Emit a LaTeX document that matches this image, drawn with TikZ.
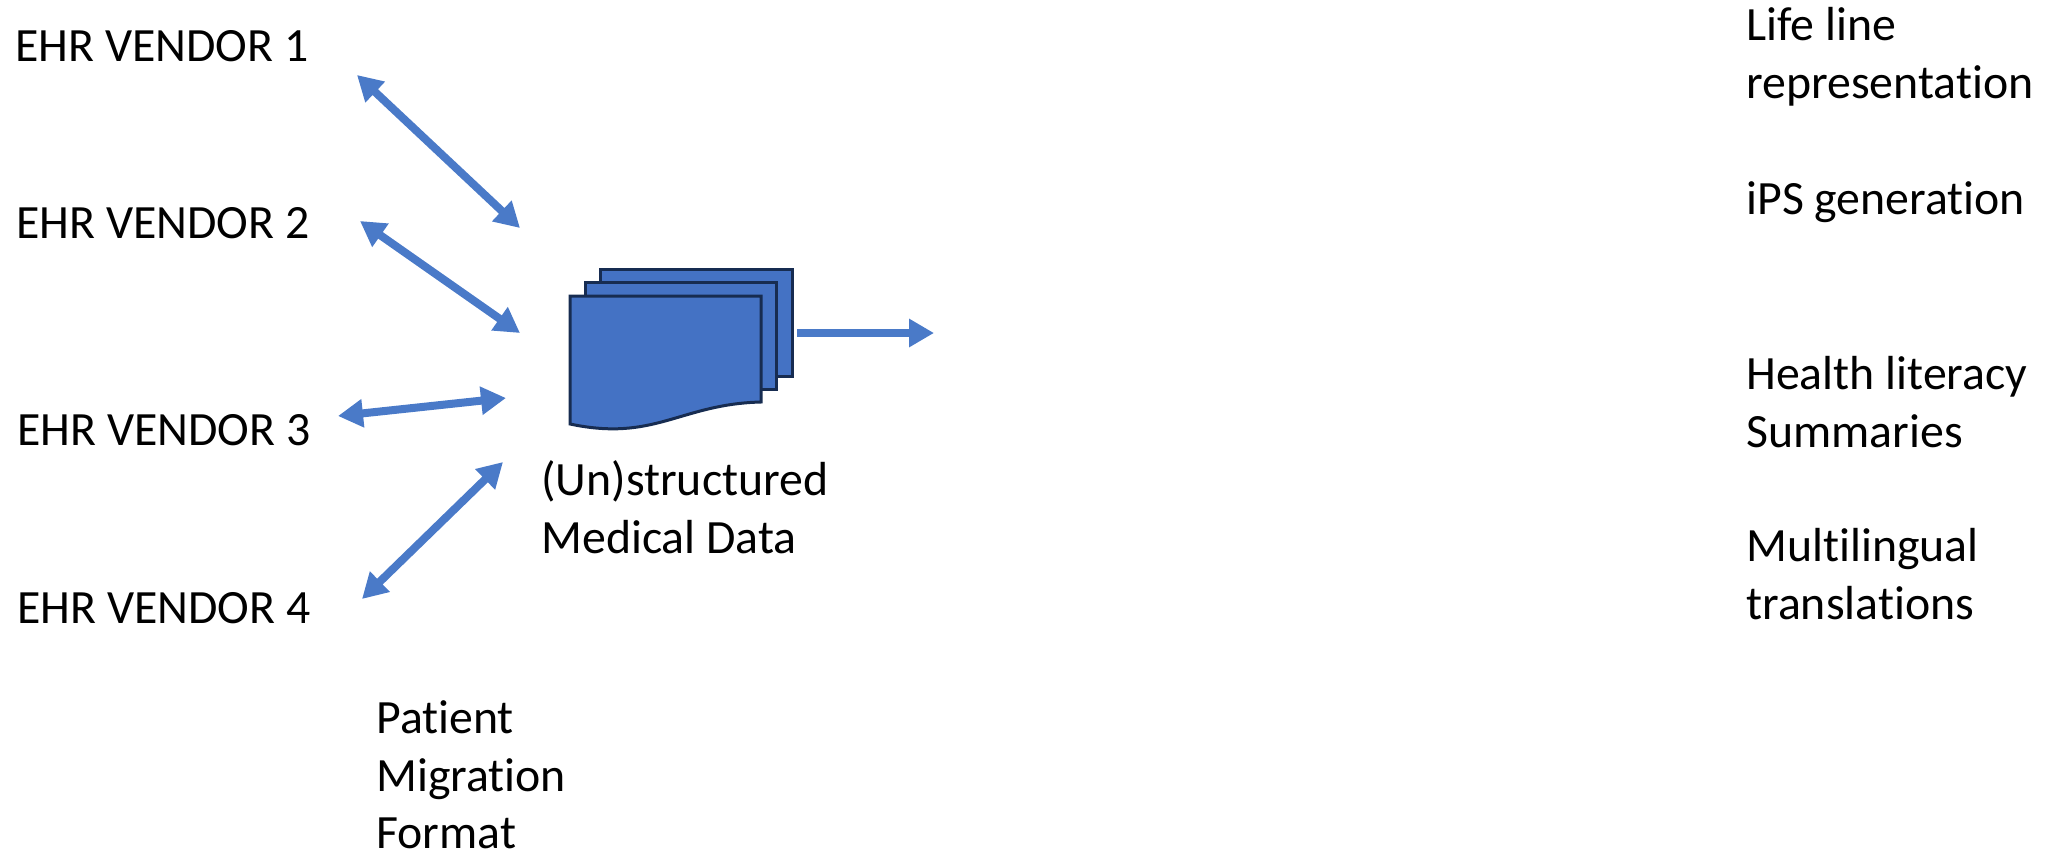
\documentclass[tikz,border=0pt]{standalone}
\usepackage{fontspec}
\setmainfont[Ligatures=NoCommon]{Carlito}
\usetikzlibrary{arrows.meta}
\definecolor{docblue}{HTML}{4472C4}
\definecolor{docedge}{HTML}{172C51}
\definecolor{arrowblue}{HTML}{4A7AC8}
\tikzset{
label/.style={anchor=west,inner sep=0pt,align=left,font=\fontsize{27.2pt}{32.8pt}\selectfont},
sheet/.style={draw=docedge,fill=docblue,line width=0.06cm},
twoway/.style={arrowblue,line width=0.16cm,{Triangle[length=0.5cm,width=0.54cm]}-{Triangle[length=0.5cm,width=0.54cm]}},
oneway/.style={arrowblue,line width=0.16cm,-{Triangle[length=0.5cm,width=0.54cm]}}
}
\begin{document}
\begin{tikzpicture}[x=0.02cm,y=-0.02cm]
\useasboundingbox (0,0) rectangle (2049,852);
\path (15,46) node(a)[label]{EHR VENDOR 1}
(16,223) node(b)[label]{EHR VENDOR 2}
(17,430) node(c)[label]{EHR VENDOR 3}
(17,608) node(d)[label]{EHR VENDOR 4}
(376,775) node(e)[label]{Patient\\ Migration\\ Format}
(541,507) node(f)[label]{(Un)structured\\ Medical Data}
(1746,57) node(g)[label]{Life line\\ representation}
(1746,202) node(h)[label]{iPS generation}
(1746,402) node(i)[label]{Health literacy\\ Summaries}
(1746,574) node(j)[label]{Multilingual\\ translations};
%stacked sheets
\draw[sheet](600,269)rectangle(792,376);
\draw[sheet](585,282)rectangle(776,389);
\draw[sheet](570,296)--(761,296)--(761,402)..controls (680,404) and (655,442) .. (570,424)--cycle;
%free ends of the arrows
\path (357,75) coordinate(a1) (520,228) coordinate(a2)
(360,221) coordinate(b1) (520,333) coordinate(b2)
(338,416) coordinate(c1) (506,398) coordinate(c2)
(362,599) coordinate(d1) (503,462) coordinate(d2)
(797,333) coordinate(o1) (934,333) coordinate(o2);
\draw[twoway](a1)--(a2);
\draw[twoway](b1)--(b2);
\draw[twoway](c1)--(c2);
\draw[twoway](d1)--(d2);
\draw[oneway](o1)--(o2);
\end{tikzpicture}
\end{document}
